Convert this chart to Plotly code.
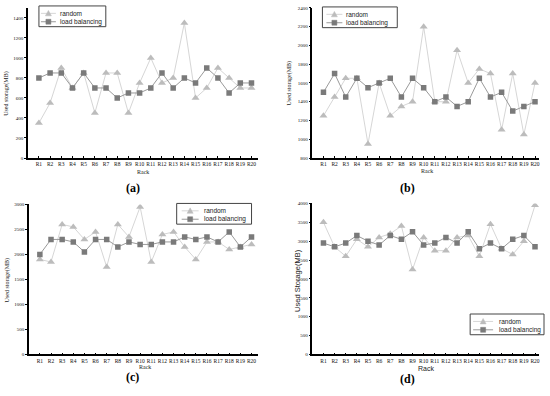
import plotly.graph_objects as go

racks = [f"R{i}" for i in range(1, 21)]

a_random = [350, 550, 900, 700, 850, 450, 850, 850, 450, 750, 1000, 750, 800, 1350, 600, 700, 900, 800, 700, 700]
a_lb = [800, 850, 850, 700, 850, 700, 700, 600, 650, 650, 700, 850, 700, 800, 750, 900, 800, 650, 750, 750]

b_random = [1250, 1450, 1650, 1650, 950, 1600, 1250, 1350, 1400, 2200, 1400, 1400, 1950, 1600, 1750, 1700, 1100, 1700, 1050, 1600]
b_lb = [1500, 1700, 1450, 1650, 1550, 1600, 1650, 1450, 1650, 1550, 1400, 1450, 1350, 1400, 1650, 1450, 1500, 1300, 1350, 1400]

c_random = [1900, 1850, 2600, 2550, 2300, 2450, 1750, 2600, 2350, 2950, 1850, 2400, 2450, 2150, 1900, 2250, 2250, 2100, 2150, 2200]
c_lb = [2000, 2300, 2300, 2250, 2050, 2300, 2300, 2150, 2250, 2200, 2200, 2250, 2250, 2350, 2300, 2350, 2250, 2450, 2150, 2350]

d_random = [3500, 2850, 2600, 3050, 2850, 3100, 3200, 3400, 2250, 3100, 2750, 2750, 3100, 3150, 2600, 3450, 2800, 2650, 3000, 3950]
d_lb = [2950, 2850, 2950, 3150, 3000, 2900, 3150, 3050, 3250, 2900, 2950, 3100, 2950, 3250, 2800, 2950, 2800, 3050, 3150, 2850]

series_names = ["random", "load balancing"]
panel_labels = ["(a)", "(b)", "(c)", "(d)"]

panels = [
    (a_random, a_lb, [0, 1500], list(range(0, 1401, 200))),
    (b_random, b_lb, [800, 2400], list(range(800, 2401, 200))),
    (c_random, c_lb, [0, 3000], list(range(0, 3001, 500))),
    (d_random, d_lb, [0, 4000], list(range(0, 4001, 500))),
]

W, H = 550, 396
# pixel boxes: x0, x1, ytop, ybottom, xrange
boxes = [
    (28, 258, 6, 158, [-0.98, 19.54]),
    (313, 540, 6, 158, [-0.99, 19.36]),
    (29, 258, 205, 357, [-0.98, 19.54]),
    (313, 540, 204, 357, [-0.99, 19.36]),
]

serif = "Liberation Serif, Times New Roman, serif"
sans = "Liberation Sans, Arial, sans-serif"

RND_LINE, RND_MARK = "#d6d6d6", "#bcbcbc"
LB_LINE, LB_MARK = "#9a9a9a", "#7a7a7a"


def px(x):
    return x / W


def py(y):
    return 1 - y / H


fig = go.Figure()
layout = dict(width=W, height=H, margin=dict(l=0, r=0, t=0, b=0),
              paper_bgcolor="white", plot_bgcolor="white", showlegend=False)

for i, ((rnd, lb, yr, yt), (x0, x1, yt0, yb0, xr)) in enumerate(zip(panels, boxes)):
    n = "" if i == 0 else str(i + 1)
    fig.add_trace(go.Scatter(
        x=racks, y=rnd, name=series_names[0], mode="lines+markers",
        line=dict(color=RND_LINE, width=1),
        marker=dict(symbol="triangle-up", size=7, color=RND_MARK),
        xaxis="x" + n, yaxis="y" + n))
    fig.add_trace(go.Scatter(
        x=racks, y=lb, name=series_names[1], mode="lines+markers",
        line=dict(color=LB_LINE, width=1),
        marker=dict(symbol="square", size=5.5, color=LB_MARK),
        xaxis="x" + n, yaxis="y" + n))
    layout["xaxis" + n] = dict(
        domain=[x0 / W, x1 / W], anchor="y" + n, range=xr,
        type="category", showline=True, linecolor="black", linewidth=1.5,
        ticks="inside", ticklen=2, tickcolor="black", showgrid=False,
        tickangle=0,
        tickfont=dict(family=serif, size=5.5, color="#111"), zeroline=False)
    layout["yaxis" + n] = dict(
        domain=[1 - yb0 / H, 1 - yt0 / H], anchor="x" + n, range=yr,
        tickvals=yt, showline=True, linecolor="black", linewidth=1.5,
        ticks="outside", ticklen=2, tickcolor="black", showgrid=False,
        tickfont=dict(family=serif, size=5, color="#111"), zeroline=False)

annotations = []
shapes = []

# legend boxes (pixel): x0, y0, x1, y1, line_x0, line_x1, text_x
legend_boxes = [
    (39, 4, 106, 25, 41, 56, 58),
    (323, 5, 398, 26, 327, 343, 345),
    (177, 204, 252, 225, 182, 199, 202),
    (471, 316, 545, 337, 474, 494, 498),
]
for (bx0, by0, bx1, by1, lx0, lx1, tx) in legend_boxes:
    shapes.append(dict(type="rect", xref="paper", yref="paper",
                       x0=px(bx0), x1=px(bx1), y0=py(by1), y1=py(by0),
                       line=dict(color="#444", width=1), fillcolor="white", layer="above"))
    rows = [by0 + 7.5, by0 + 16]
    styles = [(RND_LINE, RND_MARK, "tri"), (LB_LINE, LB_MARK, "sq")]
    for (ry, (lc, mc, kind), name) in zip(rows, styles, series_names):
        shapes.append(dict(type="line", xref="paper", yref="paper",
                           x0=px(lx0), x1=px(lx1), y0=py(ry), y1=py(ry),
                           line=dict(color=lc, width=1), layer="above"))
        cx = (lx0 + lx1) / 2
        if kind == "tri":
            path = (f"M {px(cx - 3)},{py(ry + 2.5)} L {px(cx + 3)},{py(ry + 2.5)} "
                    f"L {px(cx)},{py(ry - 3)} Z")
            shapes.append(dict(type="path", xref="paper", yref="paper", path=path,
                               fillcolor=mc, line=dict(color=mc, width=0.5), layer="above"))
        else:
            shapes.append(dict(type="rect", xref="paper", yref="paper",
                               x0=px(cx - 2.5), x1=px(cx + 2.5), y0=py(ry + 2.5), y1=py(ry - 2.5),
                               fillcolor=mc, line=dict(color=mc, width=0.5), layer="above"))
        annotations.append(dict(x=px(tx), y=py(ry), xref="paper", yref="paper",
                                xanchor="left", yanchor="middle", text=name, showarrow=False,
                                font=dict(family=sans, size=6.5, color="#222")))

# axis titles and panel labels
titles = [
    # (rack_x, rack_y, ytitle_x, ytitle_y, label_x, label_y, font, size, ytext)
    (143, 172, 7, 92, 133, 188, serif, 6, "Used storage(MB)"),
    (428, 171, 290, 82, 408, 188, serif, 6, "Used storage(MB)"),
    (145, 370, 7, 281, 133, 380, serif, 6, "Used storage(MB)"),
    (427, 371.5, 298, 282, 408, 382, sans, 7, "Used Storage(MB)"),
]
for k, (rx, ry, tx, ty, lx, ly, fam, sz, ytext) in enumerate(titles):
    annotations.append(dict(x=px(rx), y=py(ry), xref="paper", yref="paper",
                            xanchor="center", yanchor="middle",
                            text="Rack", showarrow=False,
                            font=dict(family=fam, size=sz, color="#222")))
    annotations.append(dict(x=px(tx), y=py(ty), xref="paper", yref="paper",
                            xanchor="center", yanchor="middle",
                            text=ytext, textangle=-90, showarrow=False,
                            font=dict(family=fam, size=7.5 if fam == sans else sz, color="#222")))
    annotations.append(dict(x=px(lx), y=py(ly), xref="paper", yref="paper",
                            xanchor="center", yanchor="middle",
                            text="<b>" + panel_labels[k] + "</b>", showarrow=False,
                            font=dict(family=serif, size=12, color="black")))

layout["annotations"] = annotations
layout["shapes"] = shapes
fig.update_layout(**layout)
fig.write_html("out.html", include_plotlyjs=True,
               config={"displayModeBar": False},
               post_script="document.body.style.margin='0';document.body.style.overflow='hidden';")
